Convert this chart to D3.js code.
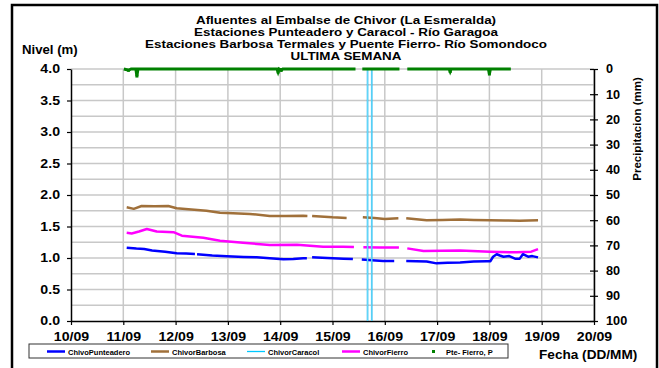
<!DOCTYPE html>
<html>
<head>
<meta charset="utf-8">
<script src="https://cdn.jsdelivr.net/npm/d3@7"></script>
<style>
  body { margin: 0; background: #fff; }
  svg text { font-family: "Liberation Sans", Arial, sans-serif; font-weight: bold; fill: #000; }
</style>
</head>
<body>
<svg id="chart" width="659" height="368"></svg>
<script>
// data: [day of September, value], null = gap in record
const titleLines = ['Afluentes al Embalse de Chivor (La Esmeralda)',
  'Estaciones Punteadero y Caracol - Río Garagoa',
  'Estaciones Barbosa Termales y Puente Fierro- Río Somondoco',
  'ULTIMA SEMANA'];
const dayTicks = [10, 11, 12, 13, 14, 15, 16, 17, 18, 19, 20];
const levelTicks = [0, 0.5, 1, 1.5, 2, 2.5, 3, 3.5, 4];
const rainTicks = [0, 10, 20, 30, 40, 50, 60, 70, 80, 90, 100];

const punteadero = [[11.065,1.164],[11.25,1.15],[11.4,1.143],[11.55,1.12],[11.8,1.10],[12.02,1.074],[12.2,1.07],[12.37,1.065],[12.39,null],
  [12.41,1.06],[12.7,1.04],[12.98,1.026],[13.3,1.015],[13.55,1.01],[13.8,0.995],[14.06,0.979],[14.25,0.985],[14.44,0.995],[14.51,0.995],[14.56,null],
  [14.61,1.01],[14.9,1.0],[15.21,0.99],[15.39,0.984],[15.47,null],
  [15.56,0.975],[15.75,0.965],[15.97,0.952],[16.18,0.952],[16.3,null],
  [16.41,0.952],[16.8,0.945],[16.99,0.915],[17.2,0.925],[17.44,0.93],[17.7,0.945],[17.95,0.95],[18.02,0.95],[18.07,1.02],[18.14,1.06],[18.2,1.04],
  [18.27,1.02],[18.38,1.03],[18.49,0.99],[18.58,0.99],[18.64,1.06],[18.74,1.02],[18.82,1.03],[18.93,1.01]];
const barbosa = [[11.065,1.805],[11.2,1.78],[11.35,1.825],[11.6,1.82],[11.86,1.825],[12.02,1.79],[12.3,1.77],[12.59,1.75],[12.85,1.72],[13.1,1.71],
  [13.42,1.70],[13.8,1.667],[14.1,1.665],[14.44,1.67],[14.52,1.668],[14.56,null],
  [14.61,1.667],[15.0,1.645],[15.27,1.635],[15.4,null],
  [15.58,1.645],[15.8,1.635],[16.0,1.62],[16.26,1.63],[16.33,null],
  [16.41,1.63],[16.8,1.60],[17.1,1.605],[17.44,1.61],[17.7,1.605],[18.01,1.60],[18.3,1.595],[18.58,1.59],[18.93,1.60]];
const caracol = [[15.67,0],[15.67,4.6],[15.71,null],[15.75,4.6],[15.75,0]];
const fierro = [[11.065,1.40],[11.16,1.39],[11.3,1.42],[11.45,1.46],[11.64,1.42],[11.96,1.41],[12.12,1.355],[12.53,1.32],[12.85,1.275],[13.29,1.243],
  [13.8,1.206],[14.32,1.21],[14.82,1.18],[15.2,1.18],[15.41,1.175],[15.5,null],
  [15.59,1.17],[15.9,1.165],[16.27,1.165],[16.35,null],
  [16.43,1.153],[16.74,1.11],[17.1,1.115],[17.44,1.12],[18.01,1.10],[18.52,1.09],[18.8,1.10],[18.93,1.14]];
const pteFierroRain = [[11.01,0],[11.1,0.5],[11.15,0],[11.24,0],[11.26,2.8],[11.28,0],[13.94,0],[13.96,1.2],[13.98,0],[14.02,0.5],[14.05,0],
  [15.44,0],[15.5,null],[15.57,0],[16.28,0],[16.35,null],[16.43,0],[17.23,0],[17.25,1],[17.27,0],[17.98,0],[18.0,2],[18.02,0],[18.41,0]];

const svg = d3.select('#chart');
const plotL = 71, plotR = 594, plotT = 69, plotB = 321;

const x = d3.scaleLinear().domain([10, 20]).range([plotL, plotR]);
const y = d3.scaleLinear().domain([0, 4]).range([plotB, plotT]);
const yRain = d3.scaleLinear().domain([0, 100]).range([plotT, plotB]);

// the original text looks stretched sideways, so widen it with scaleX
function wideText(parent, tx, ty, txt, size, sx, anchor) {
  return parent.append('text')
    .attr('transform', `translate(${tx},${ty}) scale(${sx},1)`)
    .attr('text-anchor', anchor || 'start')
    .attr('font-size', size).text(txt);
}

// outer frame
svg.append('rect').attr('x', 12).attr('y', 5).attr('width', 645).attr('height', 380)
  .attr('fill', '#fff').attr('stroke', '#000').attr('stroke-width', 2.5);

// grid
const grid = svg.append('g').attr('stroke', '#c8c8c8').attr('stroke-width', 1.5);
d3.range(0.25, 4.01, 0.25).forEach(v => {
  grid.append('line').attr('x1', plotL).attr('x2', plotR).attr('y1', y(v)).attr('y2', y(v));
});
dayTicks.slice(1).forEach(d => {
  grid.append('line').attr('x1', x(d)).attr('x2', x(d)).attr('y1', plotT).attr('y2', plotB);
});

// axes
const fmtDay = d => String(d).padStart(2, '0') + '/09';
const sxTick = 1.18;
svg.append('g').attr('transform', `translate(0,${plotB})`)
  .call(d3.axisBottom(x).tickValues(dayTicks).tickFormat(fmtDay).tickSize(4).tickSizeOuter(0))
  .call(g => g.selectAll('text').attr('font-size', 12).attr('dy', '1.05em')
    .attr('transform', `scale(${sxTick},1)`));
svg.append('g').attr('transform', `translate(${plotL},0)`)
  .call(d3.axisLeft(y).tickValues(levelTicks).tickFormat(d3.format('.1f')).tickSize(4).tickSizeOuter(0))
  .call(g => g.selectAll('text').attr('font-size', 12).attr('x', -11 / sxTick)
    .attr('transform', `scale(${sxTick},1)`));
const ra = svg.append('g').attr('transform', `translate(${plotR},0)`)
  .call(d3.axisRight(yRain).tickValues(rainTicks).tickSize(4).tickSizeOuter(0))
  .call(g => g.selectAll('text').attr('font-size', 12).attr('x', 12 / 1.06)
    .attr('transform', 'scale(1.06,1)'));
ra.selectAll('.tick line').attr('x1', -4);
svg.selectAll('.domain').attr('stroke', '#000').attr('stroke-width', 1.5);
svg.selectAll('.tick line').attr('stroke', '#000').attr('stroke-width', 1.2);

// series
svg.append('clipPath').attr('id', 'plot').append('rect')
  .attr('x', plotL).attr('y', plotT).attr('width', plotR - plotL).attr('height', plotB - plotT);
const lvl = d3.line().defined(d => d[1] !== null).x(d => x(d[0])).y(d => y(d[1]));
const rain = d3.line().defined(d => d[1] !== null).x(d => x(d[0])).y(d => yRain(d[1]));
const series = svg.append('g').attr('clip-path', 'url(#plot)').attr('fill', 'none')
  .attr('stroke-linejoin', 'round');
series.append('path').datum(barbosa).attr('d', lvl).attr('stroke', '#a0703a').attr('stroke-width', 2.5);
series.append('path').datum(fierro).attr('d', lvl).attr('stroke', '#ff00ff').attr('stroke-width', 2.5);
series.append('path').datum(punteadero).attr('d', lvl).attr('stroke', '#0000ff').attr('stroke-width', 2.5);
series.append('path').datum(caracol).attr('d', lvl).attr('stroke', '#22b4ee').attr('stroke-width', 1.6);
series.append('path').datum(caracol).attr('d', lvl).attr('stroke', '#8ff0ff').attr('stroke-width', 0.6);
svg.append('path').datum(pteFierroRain).attr('d', rain).attr('fill', 'none')
  .attr('stroke', '#008000').attr('stroke-width', 3);
svg.append('g').selectAll('rect').data(pteFierroRain.filter(d => d[1] > 0)).join('rect')
  .attr('x', d => x(d[0]) - 1.5).attr('y', d => yRain(d[1]) - 1.5).attr('width', 3).attr('height', 3)
  .attr('fill', '#008000');

// titles
titleLines.forEach((t, i) => wideText(svg, 346, 24 + i * 12.1, t, 11, 1.22, 'middle'));
wideText(svg, 22, 54, 'Nivel (m)', 12, 1.1);
svg.append('text').attr('transform', 'translate(641,129) rotate(-90)').attr('text-anchor', 'middle')
  .attr('font-size', 11.5).text('Precipitacion (mm)');
wideText(svg, 539, 359, 'Fecha (DD/MM)', 12.5, 1.09);

// legend
const legend = svg.append('g');
legend.append('rect').attr('x', 29).attr('y', 344).attr('width', 479).attr('height', 14)
  .attr('fill', '#fff').attr('stroke', '#333').attr('stroke-width', 1);
const legendItems = [
  { name: 'ChivoPunteadero', color: '#0000ff', x: 47 },
  { name: 'ChivorBarbosa', color: '#a0703a', x: 151 },
  { name: 'ChivorCaracol', color: '#00c8ff', x: 247 },
  { name: 'ChivorFierro', color: '#ff00ff', x: 342 },
  { name: 'Pte- Fierro, P', color: '#008000', x: 432, marker: true }
];
legendItems.forEach(it => {
  if (it.marker) {
    legend.append('rect').attr('x', it.x).attr('y', 350).attr('width', 3).attr('height', 3).attr('fill', it.color);
  } else {
    legend.append('line').attr('x1', it.x).attr('x2', it.x + 18).attr('y1', 351.5).attr('y2', 351.5)
      .attr('stroke', it.color).attr('stroke-width', it.name === 'ChivorCaracol' ? 1.3 : 2.5);
  }
  legend.append('text').attr('x', it.marker ? it.x + 14 : it.x + 21).attr('y', 354.5)
    .attr('font-size', 7.5).text(it.name);
});
</script>
</body>
</html>
